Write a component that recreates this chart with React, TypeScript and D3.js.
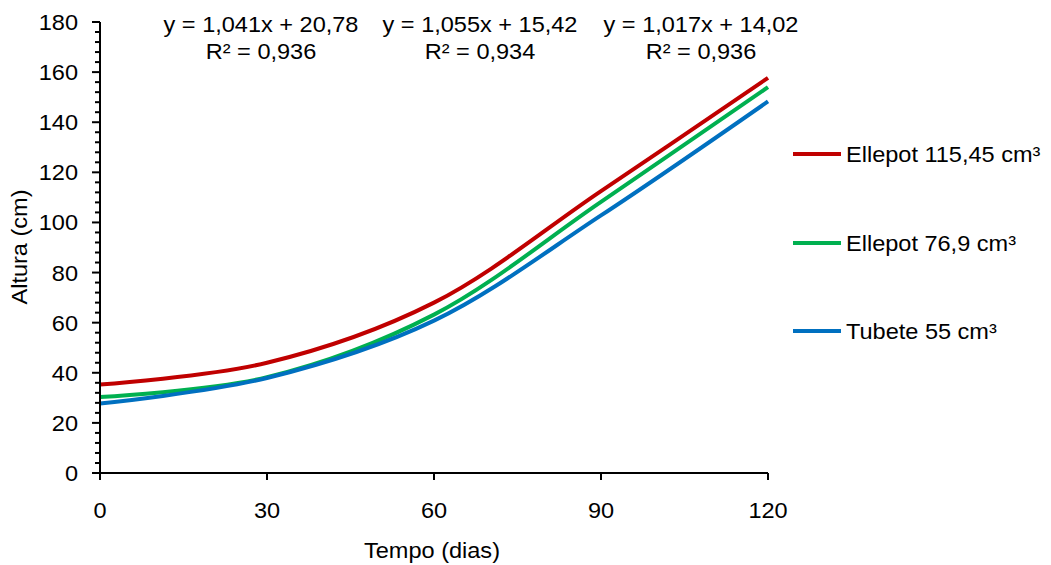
import React, { useEffect, useRef } from 'react';
import * as d3 from 'd3';

// values
const days = [0, 30, 60, 90, 120];
const ellepot115 = [35.3, 44.0, 68.0, 112.5, 157.7];
const ellepot76 = [30.3, 38.2, 63.2, 108.2, 154.0];
const tubete55 = [27.7, 37.9, 60.8, 102.8, 148.3];

const seriesNames = ['Ellepot 115,45 cm³', 'Ellepot 76,9 cm³', 'Tubete 55 cm³'];
const seriesColors = ['#C00000', '#00B050', '#0070C0'];
const equations = ['y = 1,041x + 20,78', 'y = 1,055x + 15,42', 'y = 1,017x + 14,02'];
const r2Labels = ['R² = 0,936', 'R² = 0,934', 'R² = 0,936'];

const xTicks = [0, 30, 60, 90, 120];
const yTicks = [0, 20, 40, 60, 80, 100, 120, 140, 160, 180];

const App = () => {
  const ref = useRef<SVGSVGElement>(null);

  useEffect(() => {
    const svg = d3.select(ref.current);
    svg.selectAll('*').remove();

    const font = "'Liberation Sans', Arial, sans-serif";
    const fs = 22;
    const sx = 1.07; // text in the picture is a bit wide

    const x = d3.scaleLinear().domain([0, 120]).range([100, 768]);
    const y = d3.scaleLinear().domain([0, 180]).range([473, 22]);

    const addText = (
      g: d3.Selection<any, unknown, null, undefined>,
      str: string,
      tx: number,
      ty: number,
      anchor: string,
      rotate = 0
    ) => {
      g.append('text')
        .attr('transform', `translate(${tx},${ty}) rotate(${rotate}) scale(${sx},1)`)
        .attr('text-anchor', anchor)
        .attr('font-family', font)
        .attr('font-size', fs)
        .attr('fill', '#000')
        .text(str);
    };

    const all = [ellepot115, ellepot76, tubete55];

    const line = d3
      .line<number>()
      .x((_, i) => x(days[i]))
      .y((d) => y(d))
      .curve(d3.curveCatmullRom.alpha(0.5));

    all.forEach((vals, i) => {
      svg
        .append('path')
        .attr('d', line(vals))
        .attr('fill', 'none')
        .attr('stroke', seriesColors[i])
        .attr('stroke-width', 4);
    });

    // axes
    const axes = svg.append('g').attr('stroke', '#000').attr('stroke-width', 2);
    axes.append('line').attr('x1', x(0)).attr('x2', x(0)).attr('y1', y(180)).attr('y2', y(0));
    axes.append('line').attr('x1', x(0)).attr('x2', x(120)).attr('y1', y(0)).attr('y2', y(0));

    // y ticks: major every 20, minor every 4
    d3.range(0, 181, 4).forEach((v) => {
      const major = v % 20 === 0;
      axes
        .append('line')
        .attr('x1', x(0) - (major ? 8 : 5))
        .attr('x2', x(0))
        .attr('y1', y(v))
        .attr('y2', y(v));
    });
    xTicks.forEach((v) => {
      axes.append('line').attr('x1', x(v)).attr('x2', x(v)).attr('y1', y(0)).attr('y2', y(0) + 7);
    });

    const labels = svg.append('g');
    yTicks.forEach((v) => addText(labels, String(v), 78, y(v) + 8, 'end'));
    xTicks.forEach((v) => addText(labels, String(v), x(v), 518, 'middle'));

    addText(labels, 'Tempo (dias)', 432, 558, 'middle');
    addText(labels, 'Altura (cm)', 27, 247, 'middle', -90);

    const eqX = [261, 480, 701];
    equations.forEach((eq, i) => {
      addText(labels, eq, eqX[i], 32, 'middle');
      addText(labels, r2Labels[i], eqX[i], 59, 'middle');
    });

    // legend
    const legY = [154, 243, 331];
    seriesNames.forEach((name, i) => {
      svg
        .append('line')
        .attr('x1', 793)
        .attr('x2', 841)
        .attr('y1', legY[i])
        .attr('y2', legY[i])
        .attr('stroke', seriesColors[i])
        .attr('stroke-width', 4);
      addText(labels, name, 846, legY[i] + 8, 'start');
    });
  }, []);

  return (
    <svg
      ref={ref}
      width={1051}
      height={565}
      style={{ position: 'absolute', left: 0, top: 0, background: '#fff' }}
    />
  );
};

export default App;
